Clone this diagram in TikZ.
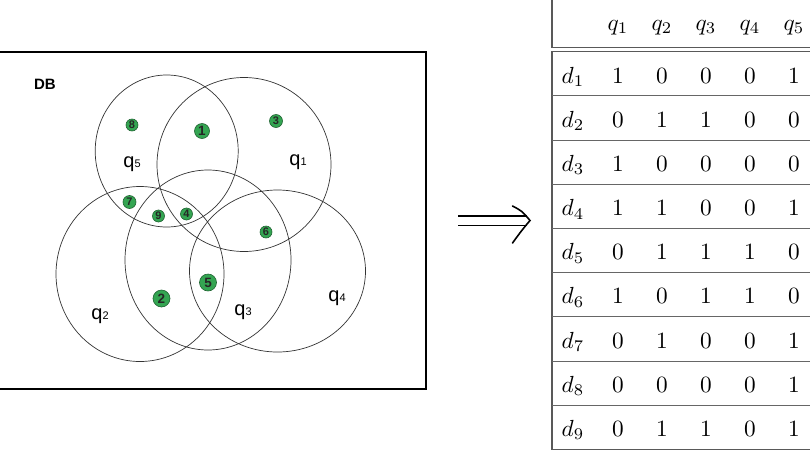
\documentclass[tikz,border=0pt]{standalone}
\usepackage{fontspec}
\newfontfamily\labelfont{Liberation Sans}
\usetikzlibrary{shapes.geometric, arrows.meta}
\definecolor{docgreen}{RGB}{52,165,82}

\begin{document}
\begin{tikzpicture}[x=1pt, y=-1pt,
  qset/.style={draw=black!80, line width=0.7pt, ellipse, inner sep=0pt},
  doc/.style={circle, fill=docgreen, draw=docgreen!60!black, line width=0.6pt,
    inner sep=0pt, text=black!85, font=\labelfont\bfseries\fontsize{11}{11}\selectfont},
  bigdoc/.style={doc, font=\labelfont\bfseries\fontsize{13.5}{13.5}\selectfont},
  qlab/.style={font=\labelfont\fontsize{20}{20}\selectfont, inner sep=0pt},
  cell/.style={anchor=base, inner sep=0pt, scale=2.33},
  frame/.style={draw=black!65, line width=1.2pt},
  rowline/.style={draw=black!60, line width=0.8pt},
  implies/.style={line width=1.6pt, line cap=round}
]
\useasboundingbox (0,0) rectangle (810,458);

%% -- DB box with the query sets --
\draw[line width=2pt] (-5,52) rectangle (426,389);
\node[font=\labelfont\bfseries\fontsize{15}{15}\selectfont] (db) at (45,84) {DB};

\node[qset, minimum width=143pt, minimum height=152pt] (q5) at (166.7,151) {};
\node[qset, minimum width=174pt, minimum height=174pt] (q1) at (244,164.5) {};
\node[qset, minimum width=166pt, minimum height=180pt] (q3) at (208,260) {};
\node[qset, minimum width=168pt, minimum height=175pt] (q2) at (140,274) {};
\node[qset, minimum width=176pt, minimum height=162pt] (q4) at (277.5,271) {};

\node[qlab] (q5l) at (132,164) {q{\fontsize{11}{11}\selectfont 5}};
\node[qlab] (q1l) at (298,162) {q{\fontsize{11}{11}\selectfont 1}};
\node[qlab] (q2l) at (100,316) {q{\fontsize{11}{11}\selectfont 2}};
\node[qlab] (q3l) at (243,312) {q{\fontsize{11}{11}\selectfont 3}};
\node[qlab] (q4l) at (337,298) {q{\fontsize{11}{11}\selectfont 4}};

%% -- documents --
\node[doc, minimum size=12pt] (d8) at (132,125) {8};
\node[bigdoc, minimum size=15pt] (d1) at (202,131) {1};
\node[doc, minimum size=13pt] (d3) at (276,121) {3};
\node[doc, minimum size=13pt] (d7) at (129.5,202) {7};
\node[doc, minimum size=12pt] (d9) at (158.5,216) {9};
\node[doc, minimum size=12pt] (d4) at (186.5,214) {4};
\node[doc, minimum size=12pt] (d6) at (266,232) {6};
\node[bigdoc, minimum size=17pt] (d5) at (208,282.5) {5};
\node[bigdoc, minimum size=17pt] (d2) at (161.5,298.5) {2};

%% -- arrow --
\coordinate (arrL) at (458,220.5);
\coordinate (arrM) at (527,220.5);
\coordinate (arrR) at (530,220.5);
\draw[double, double distance=8pt, line width=1.4pt] (arrL) -- (arrM);
\draw[implies] (512.5,206) .. controls (522,211) .. (arrR)
  .. controls (522,230) .. (512.5,243);

%% -- incidence table --
\draw[frame] (552,-5) |- (815,47.7);
\draw[frame] (815,51.7) -| (552,449.3) -- (815,449.3);
\foreach \k in {1,...,8}
  \draw[rowline] (552,{51.7+44.18*\k}) -- (815,{51.7+44.18*\k});

\foreach \j in {1,...,5}
  \node[cell] (h\j) at ({574+44*\j},30) {$q_{\j}$};

\foreach \r [count=\i] in {{1,0,0,0,1},{0,1,1,0,0},{1,0,0,0,0},{1,1,0,0,1},
    {0,1,1,1,0},{1,0,1,1,0},{0,1,0,0,1},{0,0,0,0,1},{0,1,1,0,1}} {
  \node[cell] (r\i) at (573,{83+44.18*(\i-1)}) {$d_{\i}$};
  \foreach \v [count=\j] in \r
    \node[cell] (c\i\j) at ({574+44*\j},{83+44.18*(\i-1)}) {\v};
}

\end{tikzpicture}
\end{document}
